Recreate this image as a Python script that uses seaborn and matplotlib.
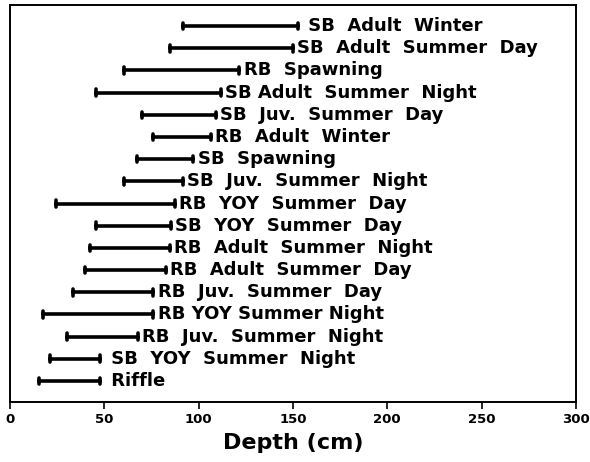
import matplotlib
matplotlib.use("Agg")
import matplotlib.pyplot as plt
import seaborn as sns
import pandas as pd

groups = ["SB  Adult  Winter", "SB  Adult  Summer  Day", "RB  Spawning",
          "SB Adult  Summer  Night", "SB  Juv.  Summer  Day", "RB  Adult  Winter",
          "SB  Spawning", "SB  Juv.  Summer  Night", "RB  YOY  Summer  Day",
          "SB  YOY  Summer  Day", "RB  Adult  Summer  Night", "RB  Adult  Summer  Day",
          "RB  Juv.  Summer  Day", "RB YOY Summer Night", "RB  Juv.  Summer  Night",
          "SB  YOY  Summer  Night", "Riffle"]
labels = [" SB  Adult  Winter", "SB  Adult  Summer  Day", "RB  Spawning",
          "SB Adult  Summer  Night", "SB  Juv.  Summer  Day", "RB  Adult  Winter",
          "SB  Spawning", "SB  Juv.  Summer  Night", "RB  YOY  Summer  Day",
          "SB  YOY  Summer  Day", "RB  Adult  Summer  Night", "RB  Adult  Summer  Day",
          "RB  Juv.  Summer  Day", "RB YOY Summer Night", "RB  Juv.  Summer  Night",
          " SB  YOY  Summer  Night", " Riffle"]
low = [91.5, 84.8, 60.6, 45.6, 69.8, 75.6, 67.1, 60.6, 24.4, 45.4, 42.4, 39.7,
       33.6, 17.7, 30.4, 21.2, 15.4]
high = [152.6, 150.0, 121.5, 111.8, 109.0, 106.5, 97.1, 91.5, 87.4, 85.3, 84.6,
        82.5, 75.9, 75.9, 67.7, 47.7, 47.7]
xticks = [0, 50, 100, 150, 200, 250, 300]

sns.set_theme(style="white")
plt.rcParams['font.family'] = ['DejaVu Sans']

df = pd.DataFrame({
    "group": groups * 2,
    "depth": low + high,
})

fig = plt.figure(figsize=(5.9, 4.62), dpi=100)
ax = fig.add_axes([0.017, 0.13, 0.959, 0.859])

sns.pointplot(data=df, x="depth", y="group", order=groups, errorbar=("pi", 100),
              capsize=0.3, linestyle="none", marker="", color="black",
              err_kws={"linewidth": 2.6}, ax=ax)

for i, (lab, h) in enumerate(zip(labels, high)):
    ax.text(h + 2.4, i, lab, va="center", ha="left", fontsize=13,
            fontweight="bold", color="black")

ax.set_xlim(0, 300)
ax.set_ylim(16.95, -0.95)
ax.set_xticks(xticks)
ax.set_xticklabels([str(t) for t in xticks], fontweight="bold", fontsize=9.5)
ax.set_yticks([])
ax.set_ylabel("")
ax.set_xlabel("Depth (cm)", fontsize=16, fontweight="bold", labelpad=5,
              color="black")
ax.tick_params(axis="x", direction="out", length=5, width=1.2, bottom=True,
               pad=3, colors="black")
for s in ax.spines.values():
    s.set_visible(True)
    s.set_color("black")
    s.set_linewidth(1.4)

fig.savefig("out.png", dpi=100)
